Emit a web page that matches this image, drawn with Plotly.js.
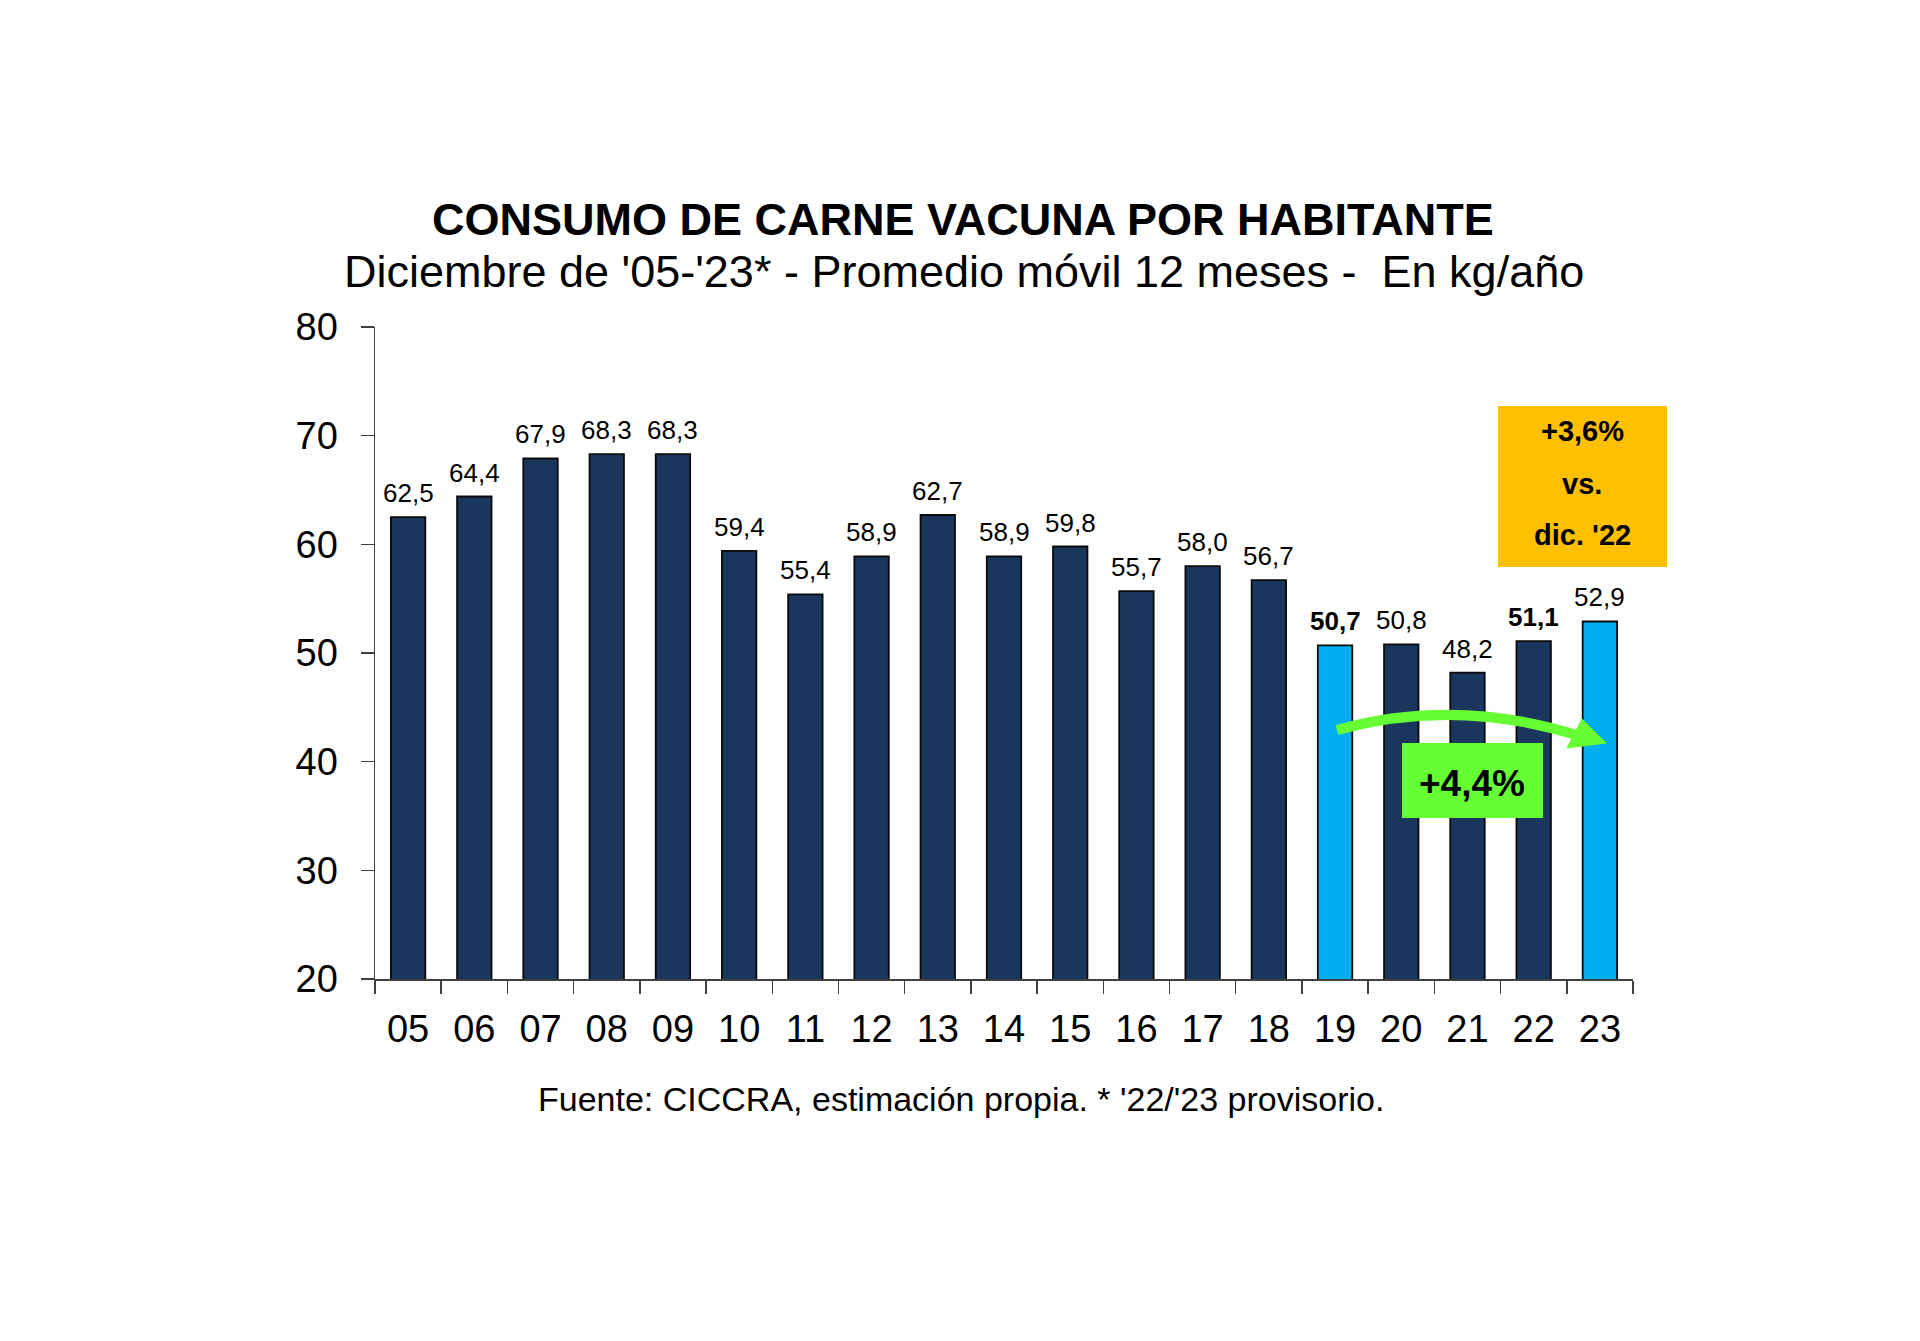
<!DOCTYPE html>
<html>
<head>
<meta charset="utf-8">
<script src="https://cdn.plot.ly/plotly-3.0.1.min.js"></script>
<style>html,body{margin:0;padding:0;background:#fff;}#chart{width:1920px;height:1341px;}</style>
</head>
<body>
<div id="chart"></div>
<script>
// ---- data ----
const years = ['05','06','07','08','09','10','11','12','13','14','15','16','17','18','19','20','21','22','23'];
const consumo = [62.5,64.4,67.9,68.3,68.3,59.4,55.4,58.9,62.7,58.9,59.8,55.7,58.0,56.7,50.7,50.8,48.2,51.1,52.9];
const highlighted = ['19','23'];
const boldLabels = ['19','22'];
const titleText = 'CONSUMO DE CARNE VACUNA POR HABITANTE';
const subtitleText = "Diciembre de '05-'23* - Promedio móvil 12 meses -\u00a0\u00a0En kg/año";
const sourceText = "Fuente: CICCRA, estimación propia. * '22/'23 provisorio.";
const boxYoY = ['+3,6%', 'vs.', "dic. '22"];
const boxGrowth = '+4,4%';

// ---- layout helpers ----
const W = 1920, H = 1341;
const L = 375, R = 287, T = 327, B = 362;
const plotW = W - L - R, plotH = H - T - B;
const px = x => (x - L) / plotW;
const py = y => (H - B - y) / plotH;
const FONT = 'Liberation Sans, Arial, sans-serif';
const NAVY = '#1B365D', LIGHT = '#00B0F0';

const fmt = v => v.toFixed(1).replace('.', ',');

const trace = {
  type: 'bar',
  x: years,
  y: consumo,
  width: 0.52,
  marker: {
    color: years.map(y => highlighted.includes(y) ? LIGHT : NAVY),
    line: {color: '#0a0a0a', width: 1.8}
  },
  hoverinfo: 'skip'
};

const annotations = years.map((yr, i) => ({
  x: i, y: consumo[i], xref: 'x', yref: 'y',
  text: boldLabels.includes(yr) ? '<b>' + fmt(consumo[i]) + '</b>' : fmt(consumo[i]),
  showarrow: false, yanchor: 'bottom', yshift: 7,
  font: {family: FONT, size: 26, color: '#000'}
}));

annotations.push(
  {xref: 'paper', yref: 'paper', x: px(963), y: py(219), text: '<b>' + titleText + '</b>',
   showarrow: false, xanchor: 'center', yanchor: 'middle', font: {family: FONT, size: 45, color: '#000'}},
  {xref: 'paper', yref: 'paper', x: px(964), y: py(271), text: subtitleText,
   showarrow: false, xanchor: 'center', yanchor: 'middle', font: {family: FONT, size: 45, color: '#000'}},
  {xref: 'paper', yref: 'paper', x: px(961), y: py(1099), text: sourceText,
   showarrow: false, xanchor: 'center', yanchor: 'middle', font: {family: FONT, size: 34, color: '#000'}},
  {xref: 'paper', yref: 'paper', x: px(1582), y: py(431), text: '<b>' + boxYoY[0] + '</b>',
   showarrow: false, xanchor: 'center', yanchor: 'middle', font: {family: FONT, size: 29, color: '#000'}},
  {xref: 'paper', yref: 'paper', x: px(1582), y: py(484), text: '<b>' + boxYoY[1] + '</b>',
   showarrow: false, xanchor: 'center', yanchor: 'middle', font: {family: FONT, size: 29, color: '#000'}},
  {xref: 'paper', yref: 'paper', x: px(1582), y: py(535), text: '<b>' + boxYoY[2] + '</b>',
   showarrow: false, xanchor: 'center', yanchor: 'middle', font: {family: FONT, size: 29, color: '#000'}},
  {xref: 'paper', yref: 'paper', x: px(1472), y: py(783), text: '<b>' + boxGrowth + '</b>',
   showarrow: false, xanchor: 'center', yanchor: 'middle', font: {family: FONT, size: 37, color: '#000'}}
);

const GREEN = '#66FF33';
const shapes = [
  {type: 'rect', xref: 'paper', yref: 'paper', x0: px(1498), x1: px(1667), y0: py(567), y1: py(406),
   fillcolor: '#FFC000', line: {width: 0}},
  {type: 'path', xref: 'paper', yref: 'paper',
   path: `M ${px(1337)},${py(730)} Q ${px(1455)},${py(697)} ${px(1580)},${py(736)}`,
   line: {color: GREEN, width: 10}},
  {type: 'path', xref: 'paper', yref: 'paper',
   path: `M ${px(1582)},${py(719)} L ${px(1606)},${py(743)} L ${px(1567)},${py(748)} Z`,
   fillcolor: GREEN, line: {color: GREEN, width: 1}},
  {type: 'rect', xref: 'paper', yref: 'paper', x0: px(1402), x1: px(1543), y0: py(818), y1: py(743),
   fillcolor: GREEN, line: {width: 0}}
];

const layout = {
  width: W, height: H,
  margin: {l: L, r: R, t: T, b: B, pad: 0},
  paper_bgcolor: '#fff', plot_bgcolor: '#fff',
  showlegend: false,
  bargap: 0.48,
  xaxis: {
    type: 'category', range: [-0.5, years.length - 0.5], tickson: 'boundaries', ticks: 'outside', ticklen: 13, tickwidth: 1.5,
    tickcolor: '#404040', showline: true, linecolor: '#404040', linewidth: 1.5,
    showgrid: false, zeroline: false, ticklabelstandoff: 16,
    tickfont: {family: FONT, size: 38, color: '#000'}, fixedrange: true
  },
  yaxis: {
    range: [20, 80], dtick: 10, tick0: 20, ticks: 'outside', ticklen: 13, tickwidth: 1.5,
    tickcolor: '#404040', showline: true, linecolor: '#404040', linewidth: 1.5,
    showgrid: false, zeroline: false, ticklabelstandoff: 15,
    tickfont: {family: FONT, size: 38, color: '#000'}, fixedrange: true
  },
  annotations: annotations,
  shapes: shapes
};

Plotly.newPlot('chart', [trace], layout, {staticPlot: true, displayModeBar: false});
</script>
</body>
</html>
